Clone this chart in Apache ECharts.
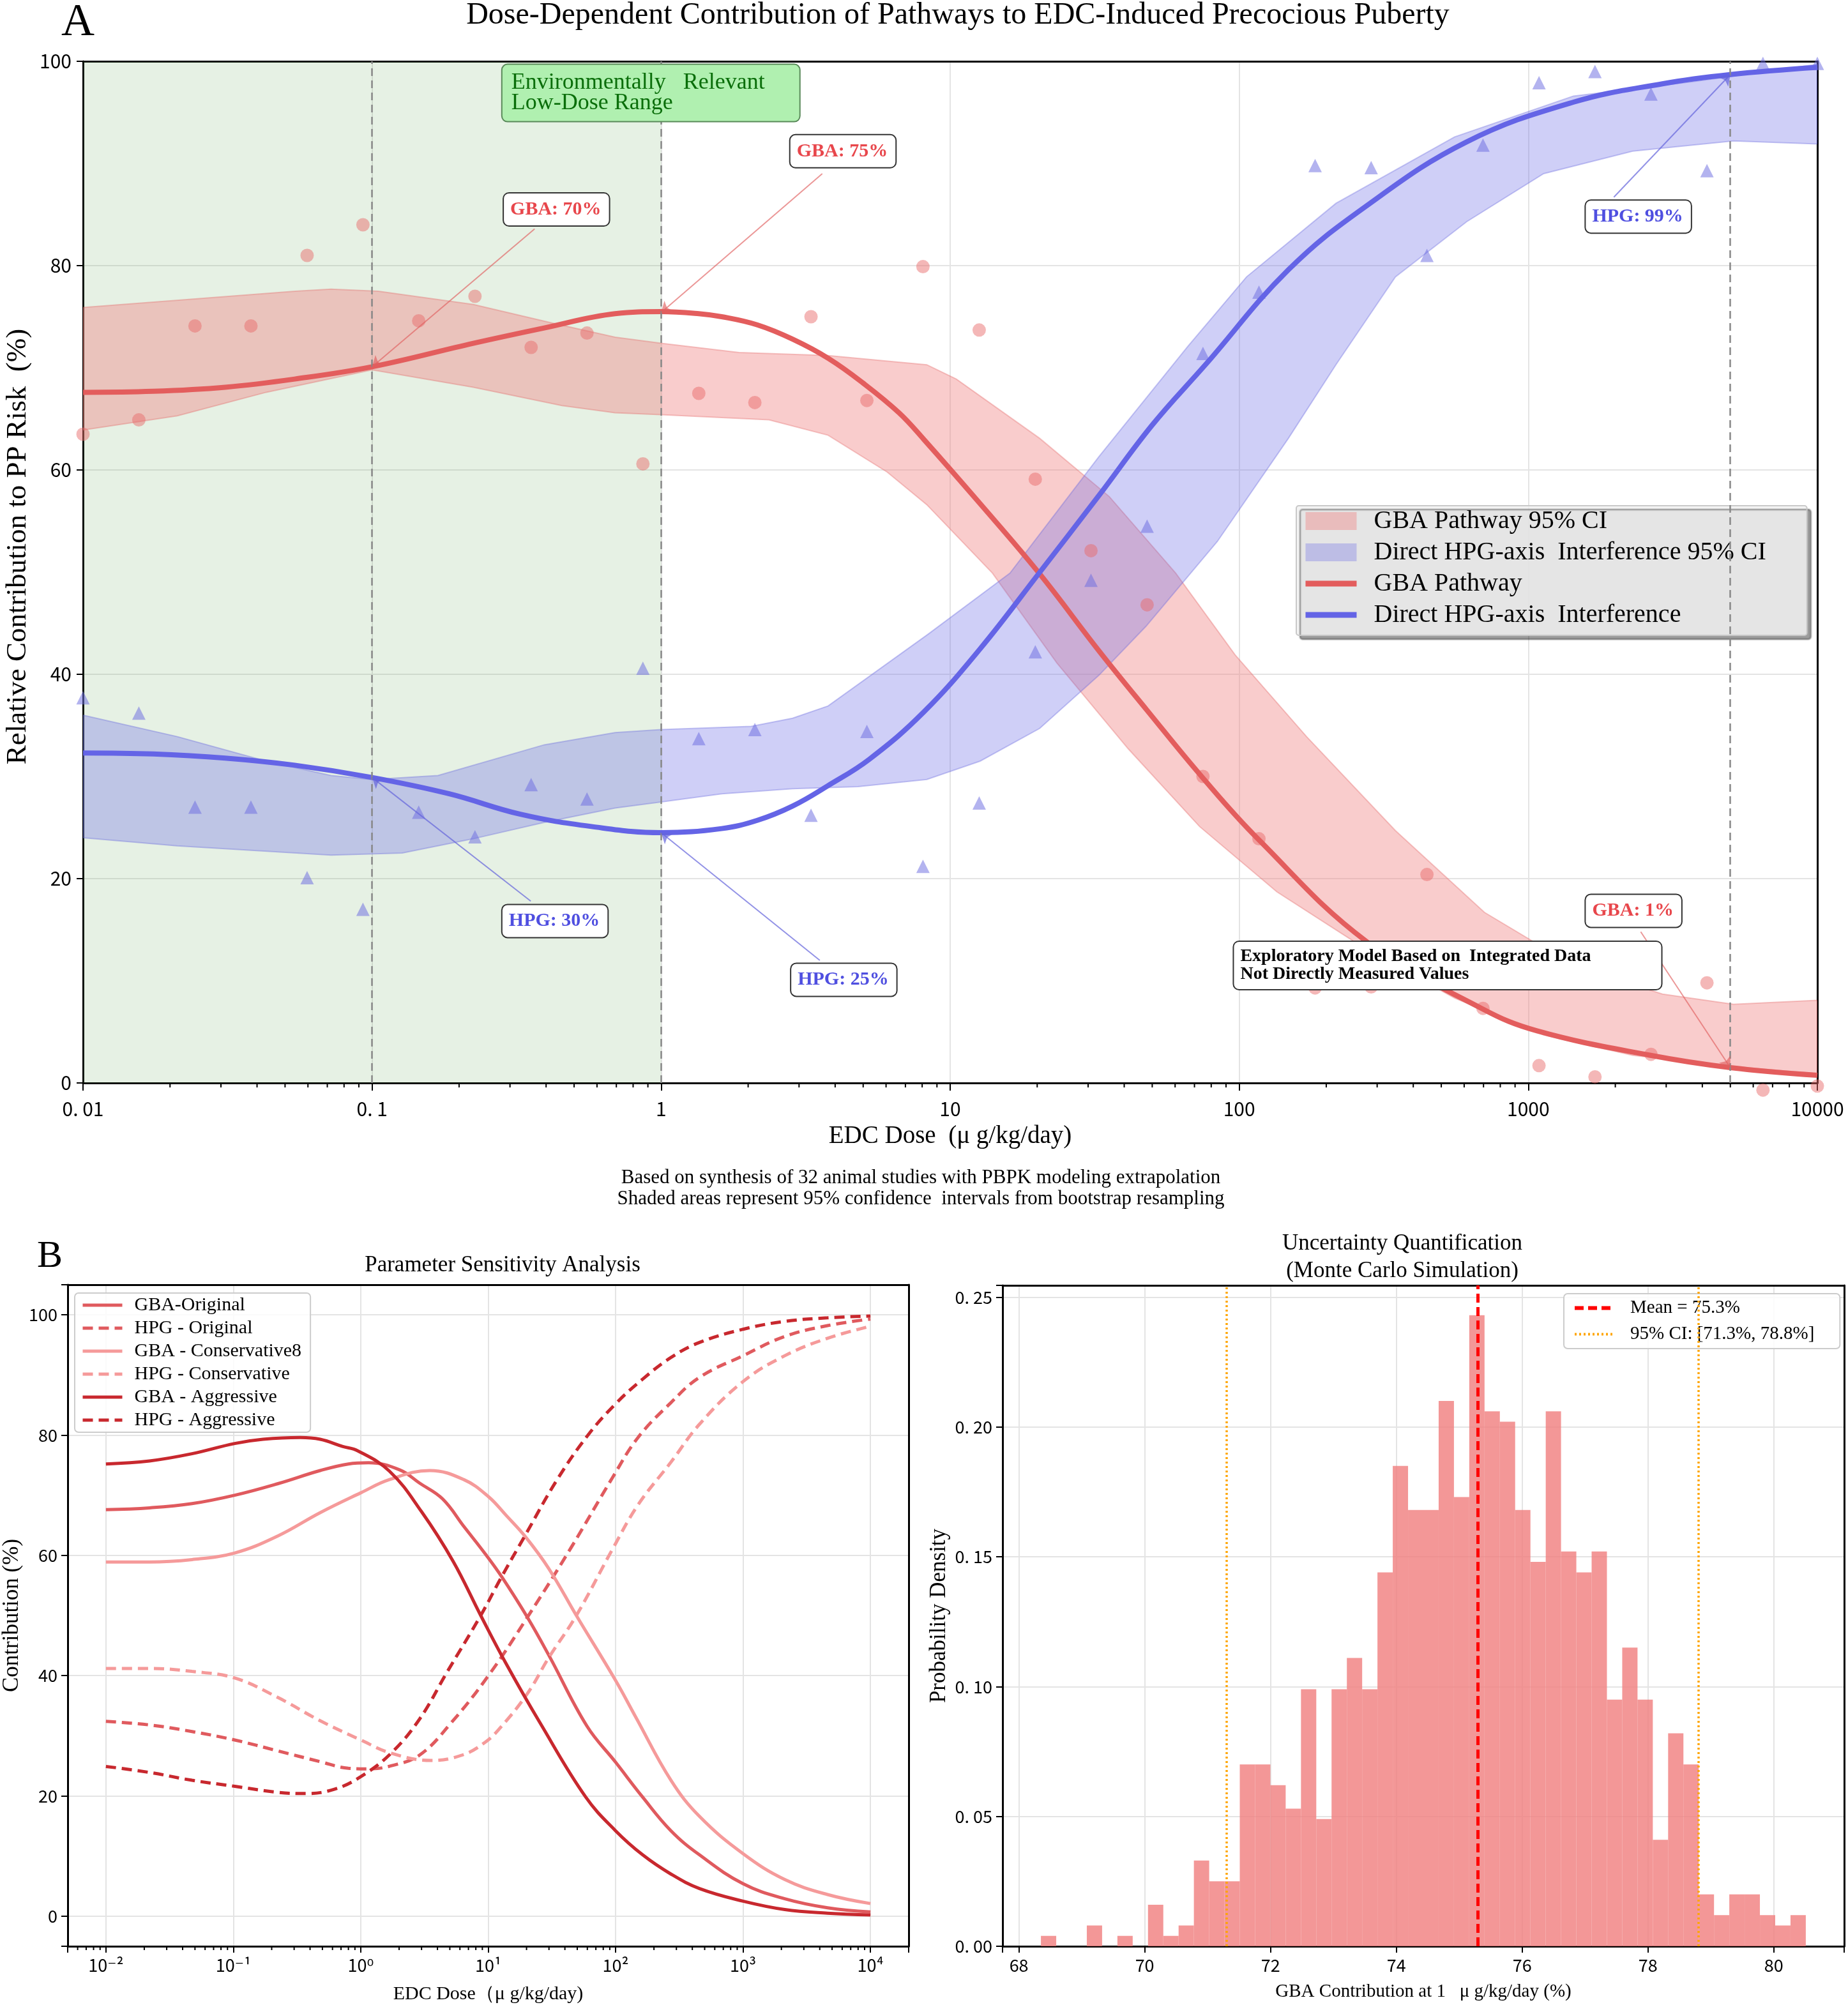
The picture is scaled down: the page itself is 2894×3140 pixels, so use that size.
<!DOCTYPE html>
<html>
<head>
<meta charset="utf-8">
<title>Dose-Dependent Contribution of Pathways to EDC-Induced Precocious Puberty</title>
<script src="https://cdn.jsdelivr.net/npm/echarts@6/dist/echarts.min.js"></script>
<style>
  html, body { margin: 0; padding: 0; background: #fff; }
  #main { width: 2894px; height: 3140px; }
</style>
</head>
<body>
<div id="main"></div>
<script>
// ---- panel A: 32 studies, observed contributions (%)
var studyDoses = [0.01, 0.0156, 0.0244, 0.0381, 0.0596, 0.093, 0.145, 0.227, 0.355, 0.554, 0.865,
  1.35, 2.11, 3.3, 5.15, 8.05, 12.6, 19.7, 30.7, 48, 74.9, 117, 183, 286, 446, 697, 1089, 1701,
  2657, 4150, 6484, 10000];
var gbaObserved = [63.5, 64.9, 74.1, 74.1, 81.0, 84.0, 74.6, 77.0, 72.0, 73.4, 60.6, 67.5, 66.6,
  75.0, 66.8, 79.9, 73.7, 59.1, 52.1, 46.8, 30.0, 23.9, 9.3, 9.4, 20.4, 7.3, 1.7, 0.6, 2.8, 9.8,
  -0.7, -0.3];
var hpgObserved = [37.7, 36.2, 27.0, 27.0, 20.1, 17.0, 26.5, 24.1, 29.2, 27.8, 40.6, 33.7, 34.6,
  26.2, 34.4, 21.2, 27.4, 42.2, 49.2, 54.5, 71.4, 77.4, 89.8, 89.6, 81.0, 91.8, 97.9, 99.0, 96.8,
  89.3, 99.8, 99.8];

// ---- panel A: fitted curves, [dose, %]
var gbaCurve = [[0.01, 67.6], [0.0175, 67.7], [0.031, 68.1], [0.054, 68.9], [0.1, 70.1],
  [0.224, 72.4], [0.394, 73.9], [0.693, 75.3], [1, 75.5], [1.35, 75.3], [1.62, 75.0], [2.15, 74.2],
  [2.85, 72.8], [3.8, 70.9], [5.0, 68.5], [6.65, 65.6], [8.1, 63.0], [12.6, 56.8], [20.3, 49.9],
  [32.7, 42.3], [47.9, 36.5], [74.6, 29.9], [116, 23.9], [274, 13.9], [689, 7.3], [1072, 5.1],
  [2650, 2.7], [5000, 1.5], [10000, 0.75]];
var hpgCurve = [[0.01, 32.3], [0.0175, 32.2], [0.031, 31.8], [0.054, 31.1], [0.1, 29.9],
  [0.185, 28.3], [0.326, 26.3], [0.574, 25.1], [1, 24.5], [1.62, 24.9], [2.15, 25.7], [2.85, 27.1],
  [3.78, 29.1], [5.26, 31.7], [8.1, 36.3], [12.7, 42.5], [20.3, 49.9], [32.7, 57.5], [50, 64.4],
  [76.4, 70.3], [148, 79.6], [274, 85.8], [611, 92.1], [1432, 96.0], [2911, 97.8], [5000, 98.7],
  [10000, 99.4]];

// ---- panel A: 95% CI bands, [dose, %]
var gbaUpper = [[0.01, 75.9], [0.0543, 77.5], [0.0721, 77.7], [0.105, 77.5], [0.224, 76.2],
  [0.433, 74.3], [0.693, 73.0], [1, 72.4], [1.86, 71.5], [3.78, 71.2], [8.3, 70.3], [10.5, 68.9],
  [20.4, 63.1], [35.5, 57.4], [60.3, 49.9], [96.8, 41.9], [171, 33.9], [347, 24.7], [705, 16.7],
  [1432, 11.5], [2911, 8.7], [5129, 7.7], [10000, 8.1]];
var gbaLower = [[0.01, 63.9], [0.0212, 65.3], [0.043, 67.6], [0.1, 69.8], [0.224, 68.1],
  [0.454, 66.3], [0.693, 65.6], [1, 65.4], [2.36, 64.9], [3.78, 63.4], [6.05, 59.8], [8.3, 56.6],
  [14.0, 49.9], [23.4, 41.1], [41.3, 32.7], [72.9, 25.1], [135, 18.7], [274, 13.1], [556, 8.3],
  [1130, 4.7], [2296, 2.7], [4677, 1.7], [10000, 0.9]];
var hpgUpper = [[0.01, 36.0], [0.0212, 33.9], [0.043, 31.5], [0.0721, 30.1], [0.1, 29.7],
  [0.169, 30.1], [0.394, 33.1], [0.693, 34.3], [1, 34.6], [2.05, 34.9], [2.85, 35.7], [3.78, 36.9],
  [8.36, 43.9], [16.1, 49.9], [32.7, 61.3], [66.4, 72.1], [106, 78.9], [216, 86.1], [556, 92.6],
  [1432, 96.6], [3681, 98.0], [10000, 99.7]];
var hpgLower = [[0.01, 24.0], [0.0212, 23.2], [0.0721, 22.3], [0.127, 22.5], [0.224, 23.9],
  [0.394, 25.5], [0.693, 26.9], [1, 27.5], [1.62, 28.3], [2.85, 28.8], [4.79, 29.0], [8.3, 29.7],
  [12.7, 31.5], [20.4, 34.7], [32.7, 39.9], [47.6, 44.7], [84, 53.0], [148, 63.1], [216, 70.3],
  [347, 78.9], [612, 84.3], [1130, 89.0], [2296, 91.2], [5129, 92.2], [10000, 91.9]];

var refDoses = [0.1, 1, 5000];
var lowDoseRange = [0.01, 1];

// ---- tick labels
var doseTickLabels = {'-2': '0. 01', '-1': '0. 1', '0': '1', '1': '10', '2': '100', '3': '1000', '4': '10000'};
var powerTickLabels = {'-2': '10⁻²', '-1': '10⁻¹', '0': '10⁰', '1': '10¹', '2': '10²', '3': '10³', '4': '10⁴'};

// ---- panel B left: sensitivity scenarios, [dose, %]
var gbaOriginal = [[0.01, 67.6], [0.022, 67.9], [0.0474, 68.6], [0.1026, 70.0], [0.222, 71.9],
  [0.48, 74.1], [0.8, 75.2], [1.15, 75.4], [2.03, 74.2], [2.9, 72.0], [4.38, 69.4], [6.5, 64.7],
  [9.44, 60.3], [12.8, 56.4], [20.3, 49.7], [29.9, 43.4], [59.6, 31.6], [100, 25.6], [163, 19.8],
  [272, 14.2], [455, 10.2], [1000, 5.4], [2128, 2.9], [4603, 1.4], [10000, 0.7]];
var hpgOriginal = [[0.01, 32.4], [0.022, 31.8], [0.0474, 30.7], [0.1026, 29.3], [0.222, 27.5],
  [0.48, 25.7], [0.8, 24.6], [1.15, 24.5], [1.73, 25.0], [2.9, 26.8], [5.1, 32.1], [10.2, 40.2],
  [20.3, 49.7], [43.9, 61.0], [94.4, 72.9], [150, 79.6], [272, 85.4], [455, 89.6], [1000, 93.2],
  [2128, 96.4], [4603, 98.2], [10000, 99.3]];
var gbaConservative = [[0.01, 58.9], [0.022, 58.9], [0.0474, 59.3], [0.1026, 60.4], [0.222, 63.2],
  [0.48, 67.1], [1, 70.4], [1.68, 72.6], [3.48, 74.1], [6.43, 72.6], [10, 69.8], [13.9, 66.6],
  [19.6, 63.1], [29.9, 57.8], [49.2, 50.0], [100, 39.2], [144, 33.1], [272, 22.6], [455, 16.6],
  [1000, 10.4], [2128, 6.1], [4603, 3.6], [10000, 2.1]];
var hpgConservative = [[0.01, 41.2], [0.022, 41.2], [0.0474, 40.7], [0.1026, 39.6], [0.222, 36.4],
  [0.48, 32.5], [1, 29.3], [1.73, 27.1], [3.56, 25.9], [6.27, 26.8], [9.44, 28.9], [12.4, 31.3],
  [20.3, 37.0], [29.9, 43.0], [49.2, 50.0], [94.4, 61.0], [150, 68.4], [272, 75.5], [455, 81.8],
  [1000, 88.9], [2128, 93.2], [4603, 96.1], [10000, 98.1]];
var gbaAggressive = [[0.01, 75.2], [0.022, 75.7], [0.0474, 76.9], [0.1026, 78.6], [0.171, 79.3],
  [0.335, 79.6], [0.48, 79.3], [0.723, 78.1], [0.944, 77.4], [1.68, 74.0], [2.99, 67.3],
  [5.31, 59.0], [8.74, 50.0], [13.9, 41.9], [25.6, 32.1], [58.3, 19.8], [100, 14.2], [163, 10.2],
  [272, 7.0], [455, 4.6], [1000, 2.5], [2128, 1.1], [4603, 0.5], [10000, 0.2]];
var hpgAggressive = [[0.01, 24.9], [0.022, 23.9], [0.0474, 22.6], [0.1026, 21.6], [0.222, 20.6],
  [0.371, 20.4], [0.62, 21.1], [1, 23.2], [1.73, 27.1], [2.9, 32.8], [4.73, 40.5], [8.74, 50.0],
  [12.5, 56.1], [19.6, 63.4], [34.8, 72.6], [60.7, 80.0], [100, 85.2], [163, 89.3], [272, 92.9],
  [455, 95.4], [1000, 97.6], [2128, 98.9], [4603, 99.5], [10000, 99.8]];

// ---- panel B right: Monte Carlo histogram (density per bin)
var histStart = 68.35;
var histBinWidth = 0.2432;
var histDensity = [0.004, 0, 0, 0.008, 0, 0.004, 0, 0.016, 0.004, 0.008, 0.033, 0.025, 0.025,
  0.070, 0.070, 0.062, 0.053, 0.099, 0.049, 0.099, 0.111, 0.099, 0.144, 0.185, 0.168, 0.168,
  0.210, 0.173, 0.243, 0.206, 0.202, 0.168, 0.148, 0.206, 0.152, 0.144, 0.152, 0.095, 0.115,
  0.095, 0.041, 0.082, 0.070, 0.020, 0.012, 0.020, 0.020, 0.012, 0.008, 0.012];
var mcMean = 75.3;
var mcCI = [71.3, 78.8];

var serif = "'Liberation Serif', 'Times New Roman', serif";
var sans = "'Noto Sans CJK SC', 'DejaVu Sans', sans-serif";
var gbaColor = '#e35d5d';
var hpgColor = '#6464e6';

var histBins = histDensity.map(function (d, i) {
  return [histStart + i * histBinWidth, histStart + (i + 1) * histBinWidth, d];
});

// minor ticks at 2..9 of each decade
function logMinorTicks(decades, fromValue, toValue) {
  var out = [];
  decades.forEach(function (d) {
    for (var m = 2; m <= 9; m++) {
      var v = d * m;
      if (v > fromValue && v < toValue) out.push([v]);
    }
  });
  return out;
}
var minorTicksA = logMinorTicks([0.01, 0.1, 1, 10, 100, 1000], 0.01, 10000);
var minorTicksB = logMinorTicks([0.001, 0.01, 0.1, 1, 10, 100, 1000, 10000], 0.005012, 19953);

function minorTickRenderer(yBase, len) {
  return function (params, api) {
    var p = api.coord([api.value(0), yBase]);
    return {
      type: 'line',
      shape: {x1: p[0], y1: p[1], x2: p[0], y2: p[1] + len},
      style: {stroke: '#000', lineWidth: 2}
    };
  };
}

function bandRenderer(upper, lower, fill, stroke) {
  return function (params, api) {
    var pts = upper.map(function (d) { return api.coord(d); });
    lower.slice().reverse().forEach(function (d) { pts.push(api.coord(d)); });
    return {
      type: 'polygon',
      shape: {points: pts},
      style: {fill: fill, stroke: stroke, lineWidth: 2}
    };
  };
}

function isStep(v, step) {
  var r = v / step;
  return Math.abs(r - Math.round(r)) < 1e-6;
}

function logLabel(map) {
  return function (v) {
    var e = Math.log10(v);
    if (Math.abs(e - Math.round(e)) > 1e-6) return '';
    return map[String(Math.round(e))] || '';
  };
}

function tag(coord, text, color) {
  return {
    coord: coord, symbol: 'rect', symbolSize: 1, itemStyle: {color: 'rgba(0,0,0,0)'},
    label: {
      show: true, position: 'inside', align: 'left', verticalAlign: 'middle',
      formatter: text, color: color, fontFamily: serif, fontWeight: 'bold', fontSize: 30,
      lineHeight: 34, backgroundColor: '#fff', borderColor: '#333', borderWidth: 2,
      borderRadius: 8, padding: [2, 12, 14, 10]
    }
  };
}

function arrow(from, to, color) {
  return [{coord: from, lineStyle: {color: color, width: 2, type: 'solid'}}, {coord: to}];
}

// one sensitivity curve on the panel B left grid
function sensLine(name, color, dashed, data) {
  return {
    name: name, type: 'line', xAxisIndex: 1, yAxisIndex: 1, smooth: 0.4,
    symbol: 'none', lineStyle: {color: color, width: 5, type: dashed ? [16, 9] : 'solid'},
    itemStyle: {color: color}, data: data
  };
}

// plain black axis line used for the top/right frame sides
function frameAxis(gridIndex, base) {
  var ax = {
    gridIndex: gridIndex, position: base.position,
    axisLine: {show: true, onZero: false, lineStyle: {color: '#000', width: 3}},
    axisTick: {show: false}, axisLabel: {show: false}, splitLine: {show: false}
  };
  for (var k in base) if (k !== 'position') ax[k] = base[k];
  return ax;
}

var axisLineBlack = {show: true, onZero: false, lineStyle: {color: '#000', width: 3}};
var gridSplit = {show: true, lineStyle: {color: '#e4e4e4', width: 2}};
var hideSymbol = {opacity: 0};

var chart = echarts.init(document.getElementById('main'), null, {renderer: 'canvas'});

chart.setOption({
  animation: false,
  backgroundColor: '#fff',
  title: [
    {text: 'A', left: 96, top: 0, padding: 0, textStyle: {fontFamily: serif, fontSize: 72, fontWeight: 'normal', color: '#000'}},
    {text: 'Dose-Dependent Contribution of Pathways to EDC-Induced Precocious Puberty', left: 1500, top: 0, padding: 0,
      textAlign: 'center', textStyle: {fontFamily: serif, fontSize: 48, fontWeight: 'normal', color: '#000'}},
    {text: 'Based on synthesis of 32 animal studies with PBPK modeling extrapolation\nShaded areas represent 95% confidence  intervals from bootstrap resampling',
      left: 1442, top: 1828, padding: 0, textAlign: 'center',
      textStyle: {fontFamily: serif, fontSize: 31, lineHeight: 33, fontWeight: 'normal', color: '#000'}},
    {text: 'B', left: 58, top: 1938, padding: 0, textStyle: {fontFamily: serif, fontSize: 60, fontWeight: 'normal', color: '#000'}},
    {text: 'Parameter Sensitivity Analysis', left: 787, top: 1964, padding: 0, textAlign: 'center',
      textStyle: {fontFamily: serif, fontSize: 35, fontWeight: 'normal', color: '#000'}},
    {text: 'Uncertainty Quantification\n(Monte Carlo Simulation)', left: 2196, top: 1926, padding: 0, textAlign: 'center',
      textStyle: {fontFamily: serif, fontSize: 35, lineHeight: 43, fontWeight: 'normal', color: '#000'}}
  ],
  legend: [
    {
      orient: 'vertical', left: 2030, top: 792, itemWidth: 80, itemHeight: 28, itemGap: 9,
      padding: [4, 64, 12, 10], backgroundColor: 'rgba(242,242,242,0.85)', borderColor: '#c8c8c8',
      borderWidth: 2, borderRadius: 4, shadowColor: 'rgba(0,0,0,0.45)', shadowOffsetX: 6, shadowOffsetY: 6, shadowBlur: 2,
      textStyle: {fontFamily: serif, fontSize: 40, color: '#000', padding: [0, 0, 0, 22]},
      data: [
        {name: 'GBA Pathway 95% CI', icon: 'rect'},
        {name: 'Direct HPG-axis  Interference 95% CI', icon: 'rect'},
        {name: 'GBA Pathway', itemStyle: hideSymbol, lineStyle: {width: 9}},
        {name: 'Direct HPG-axis  Interference', itemStyle: hideSymbol, lineStyle: {width: 9}}
      ]
    },
    {
      orient: 'vertical', left: 117, top: 2025, itemWidth: 62, itemHeight: 14, itemGap: 6,
      padding: [4, 14, 4, 10], backgroundColor: 'rgba(255,255,255,0.85)', borderColor: '#cccccc',
      borderWidth: 2, borderRadius: 6, itemStyle: hideSymbol, lineStyle: {width: 5},
      textStyle: {fontFamily: serif, fontSize: 30, color: '#000', padding: [0, 0, 0, 14]},
      data: ['GBA-Original', 'HPG - Original', 'GBA - Conservative8', 'HPG - Conservative', 'GBA - Aggressive', 'HPG - Aggressive']
    },
    {
      orient: 'vertical', left: 2449, top: 2026, itemWidth: 62, itemHeight: 14, itemGap: 12,
      padding: [8, 40, 8, 14], backgroundColor: 'rgba(255,255,255,0.85)', borderColor: '#cccccc',
      borderWidth: 2, borderRadius: 6, itemStyle: hideSymbol,
      textStyle: {fontFamily: serif, fontSize: 29, color: '#000', padding: [0, 0, 0, 20]},
      data: [
        {name: 'Mean = 75.3%', lineStyle: {width: 6, type: [14, 7]}},
        {name: '95% CI: [71.3%, 78.8%]', lineStyle: {width: 4, type: [3, 4]}}
      ]
    }
  ],
  grid: [
    {left: 130, top: 96, width: 2716, height: 1600, outerBoundsMode: 'none'},
    {left: 106, top: 2012, width: 1317, height: 1036, outerBoundsMode: 'none'},
    {left: 1570, top: 2013, width: 1318, height: 1035, outerBoundsMode: 'none'}
  ],
  xAxis: [
    {
      gridIndex: 0, type: 'log', logBase: 10, min: 0.01, max: 10000,
      name: 'EDC Dose  (μ g/kg/day)', nameLocation: 'middle', nameGap: 64,
      nameTextStyle: {fontFamily: serif, fontSize: 39, color: '#000'},
      axisLine: axisLineBlack, axisTick: {show: true, length: 12, lineStyle: {color: '#000', width: 2}},
      axisLabel: {formatter: logLabel(doseTickLabels), fontFamily: sans, fontSize: 30, color: '#000', margin: 26},
      splitLine: gridSplit
    },
    {
      gridIndex: 1, type: 'log', logBase: 10, min: 0.005012, max: 19953,
      name: 'EDC Dose（μ g/kg/day)', nameLocation: 'middle', nameGap: 60,
      nameTextStyle: {fontFamily: serif, fontSize: 30, color: '#000'},
      axisLine: axisLineBlack, axisTick: {show: true, length: 10, lineStyle: {color: '#000', width: 2}},
      axisLabel: {formatter: logLabel(powerTickLabels), fontFamily: sans, fontSize: 27, color: '#000', margin: 16},
      splitLine: gridSplit
    },
    {
      gridIndex: 2, type: 'value', min: 67.74, max: 81.12, splitNumber: 7, minInterval: 2, maxInterval: 2,
      name: 'GBA Contribution at 1   μ g/kg/day (%)', nameLocation: 'middle', nameGap: 57,
      nameTextStyle: {fontFamily: serif, fontSize: 29, color: '#000'},
      axisLine: axisLineBlack, axisTick: {show: true, length: 10, lineStyle: {color: '#000', width: 2}},
      axisLabel: {formatter: function (v) { return isStep(v, 2) ? String(Math.round(v)) : ''; },
        fontFamily: sans, fontSize: 27, color: '#000', margin: 16},
      splitLine: gridSplit
    },
    frameAxis(0, {position: 'top', type: 'log', logBase: 10, min: 0.01, max: 10000}),
    frameAxis(1, {position: 'top', type: 'log', logBase: 10, min: 0.005012, max: 19953}),
    frameAxis(2, {position: 'top', type: 'value', min: 67.74, max: 81.12})
  ],
  yAxis: [
    {
      gridIndex: 0, type: 'value', min: 0, max: 100, interval: 20,
      name: 'Relative Contribution to PP Risk  (%)', nameLocation: 'middle', nameGap: 62,
      nameTextStyle: {fontFamily: serif, fontSize: 45, color: '#000', padding: [0, 0, 0, 80]},
      axisLine: axisLineBlack, axisTick: {show: true, length: 10, lineStyle: {color: '#000', width: 2}},
      axisLabel: {fontFamily: sans, fontSize: 30, color: '#000', margin: 18},
      splitLine: gridSplit
    },
    {
      gridIndex: 1, type: 'value', min: -5, max: 105, splitNumber: 5, minInterval: 20, maxInterval: 20,
      name: 'Contribution (%)', nameLocation: 'middle', nameGap: 70,
      nameTextStyle: {fontFamily: serif, fontSize: 35, color: '#000'},
      axisLine: axisLineBlack, axisTick: {show: true, length: 10, lineStyle: {color: '#000', width: 2}},
      axisLabel: {formatter: function (v) { return isStep(v, 20) ? String(Math.round(v)) : ''; },
        fontFamily: sans, fontSize: 27, color: '#000', margin: 16},
      splitLine: gridSplit
    },
    {
      gridIndex: 2, type: 'value', min: 0, max: 0.2545, interval: 0.05,
      name: 'Probability Density', nameLocation: 'middle', nameGap: 82,
      nameTextStyle: {fontFamily: serif, fontSize: 35, color: '#000'},
      axisLine: axisLineBlack, axisTick: {show: true, length: 10, lineStyle: {color: '#000', width: 2}},
      axisLabel: {formatter: function (v) { return isStep(v, 0.05) ? v.toFixed(2).replace('.', '. ') : ''; },
        fontFamily: sans, fontSize: 27, color: '#000', margin: 16},
      splitLine: gridSplit
    },
    frameAxis(0, {position: 'right', type: 'value', min: 0, max: 100}),
    frameAxis(1, {position: 'right', type: 'value', min: -5, max: 105}),
    frameAxis(2, {position: 'right', type: 'value', min: 0, max: 0.2545})
  ],
  series: [
    // ---------- panel A
    {
      name: 'lowDose', type: 'line', xAxisIndex: 0, yAxisIndex: 0, data: [], z: 1, silent: true,
      markArea: {silent: true, itemStyle: {color: 'rgba(100,170,90,0.16)'},
        data: [[{xAxis: lowDoseRange[0]}, {xAxis: lowDoseRange[1]}]]}
    },
    {
      name: 'GBA Pathway 95% CI', type: 'custom', xAxisIndex: 0, yAxisIndex: 0, z: 2, clip: true, silent: true,
      itemStyle: {color: 'rgba(240,128,128,0.4)', borderColor: 'rgba(225,100,100,0.5)'},
      renderItem: bandRenderer(gbaUpper, gbaLower, 'rgba(240,128,128,0.4)', 'rgba(225,100,100,0.35)'),
      data: [[1, 50]]
    },
    {
      name: 'Direct HPG-axis  Interference 95% CI', type: 'custom', xAxisIndex: 0, yAxisIndex: 0, z: 2, clip: true, silent: true,
      itemStyle: {color: 'rgba(110,110,230,0.33)', borderColor: 'rgba(100,100,220,0.5)'},
      renderItem: bandRenderer(hpgUpper, hpgLower, 'rgba(110,110,230,0.33)', 'rgba(100,100,220,0.35)'),
      data: [[1, 50]]
    },
    {
      name: 'refLines', type: 'line', xAxisIndex: 0, yAxisIndex: 0, data: [], z: 5, silent: true,
      markLine: {silent: true, symbol: 'none', label: {show: false},
        lineStyle: {color: '#888', width: 2.5, type: [12, 7]},
        data: refDoses.map(function (d) { return {xAxis: d}; })}
    },
    {
      name: 'GBA Pathway', type: 'line', xAxisIndex: 0, yAxisIndex: 0, z: 4, smooth: 0.4, symbol: 'none',
      lineStyle: {color: gbaColor, width: 8}, itemStyle: {color: gbaColor},
      data: gbaCurve
    },
    {
      name: 'Direct HPG-axis  Interference', type: 'line', xAxisIndex: 0, yAxisIndex: 0, z: 4, smooth: 0.4, symbol: 'none',
      lineStyle: {color: hpgColor, width: 8}, itemStyle: {color: hpgColor},
      data: hpgCurve
    },
    {
      name: 'GBA observed', type: 'scatter', xAxisIndex: 0, yAxisIndex: 0, z: 3, clip: false,
      symbol: 'circle', symbolSize: 21, itemStyle: {color: 'rgba(232,104,104,0.6)'},
      data: studyDoses.map(function (d, i) { return [d, gbaObserved[i]]; })
    },
    {
      name: 'HPG observed', type: 'scatter', xAxisIndex: 0, yAxisIndex: 0, z: 3, clip: false,
      symbol: 'triangle', symbolSize: 21, itemStyle: {color: 'rgba(110,110,225,0.65)'},
      data: studyDoses.map(function (d, i) { return [d, hpgObserved[i]]; })
    },
    {
      name: 'minorA', type: 'custom', xAxisIndex: 0, yAxisIndex: 0, clip: false, silent: true, z: 6,
      renderItem: minorTickRenderer(0, 7), data: minorTicksA
    },
    {
      name: 'notes', type: 'line', xAxisIndex: 0, yAxisIndex: 0, data: [], z: 10, silent: true,
      markLine: {
        silent: true, symbol: ['none', 'arrow'], symbolSize: 16, label: {show: false},
        data: [
          arrow([0.365, 83.6], [0.1, 70.1], 'rgba(225,95,95,0.65)'),
          arrow([3.61, 89.0], [1, 75.4], 'rgba(225,95,95,0.65)'),
          arrow([2449, 14.8], [5000, 1.5], 'rgba(225,95,95,0.65)'),
          arrow([0.354, 17.8], [0.1, 29.9], 'rgba(100,100,220,0.7)'),
          arrow([3.54, 12.0], [1, 24.5], 'rgba(100,100,220,0.7)'),
          arrow([1977, 86.7], [5000, 98.7], 'rgba(100,100,220,0.7)')
        ]
      },
      markPoint: {
        silent: true,
        data: [
          tag([0.2858, 85.5], 'GBA: 70%', '#e8474c'),
          tag([2.80, 91.2], 'GBA: 75%', '#e8474c'),
          tag([1581, 16.85], 'GBA: 1%', '#e8474c'),
          tag([0.2825, 15.85], 'HPG: 30%', '#4f4fe0'),
          tag([2.82, 10.1], 'HPG: 25%', '#4f4fe0'),
          tag([1581, 84.8], 'HPG: 99%', '#4f4fe0'),
          {
            coord: [0.2825, 96.9], symbol: 'rect', symbolSize: 1, itemStyle: {color: 'rgba(0,0,0,0)'},
            label: {show: true, position: 'inside', align: 'left', verticalAlign: 'middle',
              formatter: 'Environmentally   Relevant\nLow-Dose Range', color: '#0a6e0a',
              fontFamily: serif, fontSize: 36, lineHeight: 32, backgroundColor: '#b0f0b0',
              borderColor: '#5a8a5a', borderWidth: 2, borderRadius: 8, padding: [2, 54, 22, 14]}
          },
          {
            coord: [95.9, 11.5], symbol: 'rect', symbolSize: 1, itemStyle: {color: 'rgba(0,0,0,0)'},
            label: {show: true, position: 'inside', align: 'left', verticalAlign: 'middle',
              formatter: 'Exploratory Model Based on  Integrated Data\nNot Directly Measured Values', color: '#000',
              fontFamily: serif, fontWeight: 'bold', fontSize: 28, lineHeight: 28, backgroundColor: '#fff',
              borderColor: '#333', borderWidth: 2, borderRadius: 8, padding: [16, 110, 2, 10]}
          }
        ]
      }
    },

    // ---------- panel B left
    sensLine('GBA-Original', '#e05a5e', false, gbaOriginal),
    sensLine('HPG - Original', '#e05a5e', true, hpgOriginal),
    sensLine('GBA - Conservative8', '#f59a9a', false, gbaConservative),
    sensLine('HPG - Conservative', '#f59a9a', true, hpgConservative),
    sensLine('GBA - Aggressive', '#c8282e', false, gbaAggressive),
    sensLine('HPG - Aggressive', '#c8282e', true, hpgAggressive),
    {
      name: 'minorB', type: 'custom', xAxisIndex: 1, yAxisIndex: 1, clip: false, silent: true, z: 6,
      renderItem: minorTickRenderer(-5, 6), data: minorTicksB
    },

    // ---------- panel B right
    {
      name: 'histogram', type: 'custom', xAxisIndex: 2, yAxisIndex: 2, silent: true, z: 2,
      encode: {x: [0, 1], y: 2},
      renderItem: function (params, api) {
        var top = api.coord([api.value(0), api.value(2)]);
        var bottom = api.coord([api.value(1), 0]);
        return {
          type: 'rect',
          shape: {x: top[0], y: top[1], width: bottom[0] - top[0], height: bottom[1] - top[1]},
          style: {fill: 'rgba(240,128,128,0.82)'}
        };
      },
      data: histBins
    },
    {
      name: 'Mean = 75.3%', type: 'line', xAxisIndex: 2, yAxisIndex: 2, data: [], symbol: 'none', z: 5,
      lineStyle: {color: '#ff0000', width: 5, type: [14, 7]}, itemStyle: {color: '#ff0000'},
      markLine: {silent: true, symbol: 'none', label: {show: false},
        lineStyle: {color: '#ff0000', width: 5, type: [14, 7]}, data: [{xAxis: mcMean}]}
    },
    {
      name: '95% CI: [71.3%, 78.8%]', type: 'line', xAxisIndex: 2, yAxisIndex: 2, data: [], symbol: 'none', z: 5,
      lineStyle: {color: '#ffa500', width: 3.5, type: [3, 4]}, itemStyle: {color: '#ffa500'},
      markLine: {silent: true, symbol: 'none', label: {show: false},
        lineStyle: {color: '#ffa500', width: 3.5, type: [3, 4]},
        data: mcCI.map(function (v) { return {xAxis: v}; })}
    }
  ]
});
</script>
</body>
</html>
